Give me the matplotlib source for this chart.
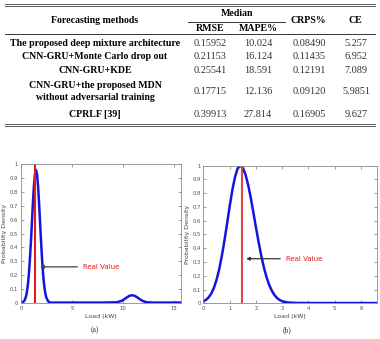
import matplotlib
matplotlib.use("Agg")
import matplotlib.pyplot as plt

# table data
methods = ["The proposed deep mixture architecture",
           "CNN-GRU+Monte Carlo drop out",
           "CNN-GRU+KDE",
           "CNN-GRU+the proposed MDN\nwithout adversarial training",
           "CPRLF [39]"]
rmse = ["0.15952", "0.21153", "0.25541", "0.17715", "0.39913"]
mape = ["10.024", "16.124", "18.591", "12.136", "27.814"]
crps = ["0.08490", "0.11435", "0.12191", "0.09120", "0.16905"]
ce = ["5.257", "6.952", "7.089", "5.9851", "9.627"]

# panel (a): density
load_a = [0, 0.27, 0.37, 0.47, 0.57, 0.67, 0.77, 0.87, 0.97, 1.07, 1.17, 1.27, 1.37, 1.47,
          1.57, 1.67, 1.77, 1.87, 1.97, 2.07, 2.17, 2.27, 2.37, 2.47, 2.67, 2.87, 4, 6, 8,
          9.4, 9.9, 10.15, 10.4, 10.65, 10.9, 11.15, 11.4, 11.65, 11.9, 12.15, 12.4, 13, 14, 15.7]
dens_a = [0.001, 0.011, 0.022, 0.042, 0.076, 0.129, 0.207, 0.311, 0.438, 0.580, 0.722, 0.844,
          0.927, 0.957, 0.927, 0.844, 0.722, 0.580, 0.438, 0.311, 0.207, 0.129, 0.076, 0.042,
          0.011, 0.003, 0.003, 0.003, 0.003, 0.005, 0.016, 0.028, 0.041, 0.052, 0.056, 0.052,
          0.041, 0.028, 0.016, 0.009, 0.005, 0.003, 0.003, 0.003]
real_a = 1.37

# panel (b)
load_b = [0, 0.1, 0.2, 0.3, 0.4, 0.5, 0.6, 0.7, 0.8, 0.9, 1.0, 1.1, 1.2, 1.3, 1.4, 1.5, 1.6,
          1.7, 1.8, 1.9, 2.0, 2.1, 2.2, 2.3, 2.4, 2.5, 2.6, 2.7, 2.8, 2.9, 3.0, 3.2, 3.5, 4, 5, 6.6]
dens_b = [0.014, 0.026, 0.044, 0.072, 0.114, 0.172, 0.249, 0.345, 0.458, 0.581, 0.707, 0.823,
          0.917, 0.979, 1.0, 0.984, 0.936, 0.862, 0.768, 0.661, 0.551, 0.445, 0.347, 0.262,
          0.191, 0.135, 0.093, 0.061, 0.039, 0.024, 0.015, 0.006, 0.003, 0.002, 0.002, 0.002]
real_b = 1.45

W, H = 380, 339
fig = plt.figure(figsize=(3.8, 3.39), dpi=100)

# table drawn in pixel coordinates
ax_t = fig.add_axes([0, 0, 1, 1])
ax_t.set_xlim(0, W)
ax_t.set_ylim(H, 0)
ax_t.axis("off")

serif = "Liberation Serif"
fs = 7.1
for y in (3.5, 5.5, 124, 126):
    ax_t.plot([5, 375], [y, y], color="0.35", lw=0.7)
ax_t.plot([5, 375], [34, 34], color="0.2", lw=0.7)
ax_t.plot([188, 285], [21.7, 21.7], color="0.2", lw=0.7)

hdr = dict(family=serif, fontsize=fs, fontweight="bold", ha="center", va="center")
ax_t.text(95, 20.7, "Forecasting methods", **hdr)
ax_t.text(237, 14, "Median", **hdr)
ax_t.text(210, 28.3, "RMSE", **hdr)
ax_t.text(258, 28.3, "MAPE%", **hdr)
ax_t.text(308, 20.7, "CRPS%", **hdr)
ax_t.text(355, 20.7, "CE", **hdr)

row_y = [43.3, 56.7, 70.7, 91.7, 114.3]
num = dict(family=serif, fontsize=7.4, ha="center", va="center", color="0.2")
for i, y in enumerate(row_y):
    ax_t.text(95, y, methods[i], linespacing=1.4, **hdr)
    ax_t.text(210, y, rmse[i], **num)
    ax_t.text(258, y, mape[i], **num)
    ax_t.text(309, y, crps[i], **num)
    ax_t.text(356, y, ce[i], **num)


def style(ax, xlim, xticks):
    ax.set_xlim(*xlim)
    ax.set_ylim(0, 1)
    ax.set_xticks(xticks)
    ax.set_yticks([i / 10 for i in range(11)])
    ax.set_yticklabels(["0"] + [f"{i/10:g}" for i in range(1, 10)] + ["1"])
    ax.tick_params(direction="in", top=True, right=True, labelsize=3.8,
                   length=2, width=0.4, pad=2, colors="0.3")
    for s in ax.spines.values():
        s.set_color("0.55")
        s.set_linewidth(0.6)
    ax.set_xlabel("Load (kW)", fontsize=4.5, color="0.25", labelpad=2)
    ax.set_ylabel("Probability Density", fontsize=4.5, color="0.25", labelpad=2)


blue = "#1414e0"
red = "#e41a1c"

ax_a = fig.add_axes([0.0553, 0.1062, 0.421, 0.410])
ax_a.plot(load_a, dens_a, color=blue, lw=1.8, solid_joinstyle="round")
ax_a.axvline(real_a, color=red, lw=1.5)
ax_a.annotate("", xy=(1.6, 0.26), xytext=(5.8, 0.26),
              arrowprops=dict(arrowstyle="-|>", color="0.25", lw=0.9, mutation_scale=5))
ax_a.text(6.05, 0.26, "Real Value", color=red, fontsize=5, va="center")
style(ax_a, (0, 15.7), [0, 5, 10, 15])

ax_b = fig.add_axes([0.5355, 0.1053, 0.4558, 0.406])
ax_b.plot(load_b, dens_b, color=blue, lw=1.8, solid_joinstyle="round")
ax_b.axvline(real_b, color="#e04848", lw=1.5)
ax_b.annotate("", xy=(1.52, 0.324), xytext=(3.03, 0.324),
              arrowprops=dict(arrowstyle="-|>", color="0.2", lw=0.9, mutation_scale=5))
ax_b.text(3.15, 0.324, "Real Value", color=red, fontsize=5, va="center")
style(ax_b, (0, 6.6), [0, 1, 2, 3, 4, 5, 6])

ax_t.text(95, 330, "(a)", family=serif, fontsize=5.5, ha="center", va="center", color="0.2")
ax_t.text(287, 330, "(b)", family=serif, fontsize=5.5, ha="center", va="center", color="0.2")

fig.savefig("out.png", dpi=100)
